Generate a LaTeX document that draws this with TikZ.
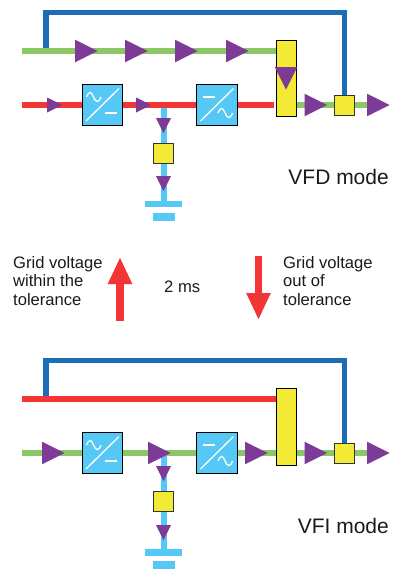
\documentclass[tikz,border=0pt]{standalone}
\usepackage{fontspec}
\setmainfont{Liberation Sans}
\usetikzlibrary{arrows.meta,backgrounds,shapes.geometric}
\definecolor{bypassblue}{HTML}{1B6DB8}
\definecolor{feedgreen}{HTML}{8BC764}
\definecolor{gridred}{HTML}{F23535}
\definecolor{battcyan}{HTML}{55C8F5}
\definecolor{flowpurple}{HTML}{7D3A96}
\definecolor{switchyellow}{HTML}{F2EA35}
\definecolor{ink}{HTML}{1A1A1A}
\tikzset{
  flowline/.style={line width=5.4pt},
  bypassline/.style={flowline,draw=bypassblue},
  greenline/.style={flowline,draw=feedgreen},
  redline/.style={flowline,draw=gridred},
  battline/.style={flowline,line width=6pt,draw=battcyan},
  bigarrow/.style={draw=gridred,line width=7.5pt,-{Triangle[length=27pt,width=22.5pt]}},
  flowmark/.style={isosceles triangle,isosceles triangle stretches,fill=flowpurple,inner sep=0pt,
                   anchor=lower side,minimum height=22.5pt,minimum width=22.5pt},
  smallmark/.style={flowmark,minimum height=15pt,minimum width=15pt},
  downmark/.style={shape border rotate=-90},
  convbox/.style={draw=black,line width=1pt,fill=battcyan,inner sep=0pt,minimum size=40.5pt},
  switchbar/.style={draw=black,line width=1pt,fill=switchyellow,inner sep=0pt,minimum width=20pt},
  switchbox/.style={draw=black!80,line width=1pt,fill=switchyellow,inner sep=0pt,minimum size=20pt},
  earthbar/.style={fill=battcyan,inner sep=0pt},
  wavestroke/.style={draw=white,line width=1.3pt},
  caption/.style={font=\fontsize{16.6}{18.4}\selectfont,text=ink,align=left,inner sep=0pt},
  modelabel/.style={caption,font=\fontsize{21}{24}\selectfont}
}
\newcommand{\sinewave}{(-16,-8) .. controls (-13,-15) and (-11,-13) .. (-9,-8) .. controls (-7,-3) and (-4,-1) .. (-1.5,-8)}
\begin{document}
\begin{tikzpicture}[x=1pt,y=-1pt]
  \useasboundingbox (0,0) rectangle (401,570);

  % VFD mode
  \node[convbox] (conva) at (102.5,105) {};
  \node[convbox] (convb) at (217,105) {};
  \node[switchbar,minimum height=76pt] (bara) at (286,78) {};
  \node[switchbox] (outa) at (344,105) {};
  \node[switchbox] (batta) at (163.5,153) {};
  \node[earthbar,minimum width=37pt,minimum height=6.5pt] (eartha) at (163.5,204) {};
  \node[earthbar,minimum width=22pt,minimum height=8pt] (earthc) at (163.5,217) {};
  \coordinate (greena) at (22,51);
  \coordinate (reda) at (22,105);
  \coordinate (redend) at (274,105);
  \coordinate (tapa) at (46,48.5);
  \coordinate (ridgea) at (46,12.5);
  \coordinate (ridgeb) at (344.5,12.5);
  \coordinate (joina) at (163.5,107.5);
  \coordinate (exita) at (367,105);

  \foreach \x/\n in {75/a,125/b,175/c,226/d}
    \node[flowmark] (top\n) at (\x,51) {};
  \node[flowmark,downmark] (swmark) at (286,67) {};
  \node[flowmark] (outb) at (304.5,105) {};
  \node[flowmark] (outc) at (367,105) {};
  \node[smallmark] (ina) at (47,105) {};
  \node[smallmark] (inb) at (136,105) {};
  \node[smallmark,downmark] (dna) at (163.5,118) {};
  \node[smallmark,downmark] (dnb) at (163.5,176) {};

  \begin{scope}[on background layer]
    \draw[bypassline] (tapa) -- (ridgea) -- (ridgeb) -- (outa.north -| ridgeb);
    \draw[greenline] (greena) -- (bara.west |- greena);
    \draw[redline] (reda) -- (conva.west);
    \draw[redline] (conva.east) -- (convb.west);
    \draw[redline] (convb.east) -- (redend);
    \draw[greenline] (bara.east |- reda) -- (exita);
    \draw[battline] (joina) -- (batta.north);
    \draw[battline] (batta.south) -- (eartha.north);
  \end{scope}

  % VFI mode
  \node[convbox] (convc) at (102.5,453) {};
  \node[convbox] (convd) at (217,453) {};
  \node[switchbar,minimum height=77pt] (barb) at (286,426.5) {};
  \node[switchbox] (outd) at (344,453) {};
  \node[switchbox] (battb) at (163.5,501) {};
  \node[earthbar,minimum width=37pt,minimum height=6.5pt] (earthb) at (163.5,552.5) {};
  \node[earthbar,minimum width=22pt,minimum height=8pt] (earthd) at (163.5,565) {};
  \coordinate (redb) at (22,399);
  \coordinate (greenb) at (22,453);
  \coordinate (tapb) at (46,396.5);
  \coordinate (ridgec) at (46,360.5);
  \coordinate (ridged) at (344.5,360.5);
  \coordinate (joinb) at (163.5,455.5);
  \coordinate (exitb) at (367,453);

  \foreach \x/\n in {42/a,148/b,245/c,304.5/d,367/e}
    \node[flowmark] (low\n) at (\x,453) {};
  \node[smallmark,downmark] (dnc) at (163.5,466) {};
  \node[smallmark,downmark] (dnd) at (163.5,525) {};

  \begin{scope}[on background layer]
    \draw[bypassline] (tapb) -- (ridgec) -- (ridged) -- (outd.north -| ridged);
    \draw[redline] (redb) -- (barb.west |- redb);
    \draw[greenline] (greenb) -- (convc.west);
    \draw[greenline] (convc.east) -- (convd.west);
    \draw[greenline] (convd.east) -- (barb.west |- greenb);
    \draw[greenline] (barb.east |- greenb) -- (exitb);
    \draw[battline] (joinb) -- (battb.north);
    \draw[battline] (battb.south) -- (earthb.north);
  \end{scope}

  % converter symbols
  \foreach \c in {conva,convc} {
    \begin{scope}[shift={(\c)}]
      \draw[wavestroke] (-16.5,16) -- (16.5,-16.5);
      \draw[wavestroke] \sinewave;
      \draw[wavestroke] (2,8) -- (14.5,8);
    \end{scope}
  }
  \foreach \c in {convb,convd} {
    \begin{scope}[shift={(\c)}]
      \draw[wavestroke] (-16.5,16) -- (16.5,-16.5);
      \draw[wavestroke] (-14,-8) -- (-2,-8);
      \begin{scope}[shift={(17,16)}]
        \draw[wavestroke] \sinewave;
      \end{scope}
    \end{scope}
  }

  % transfer arrows
  \coordinate (upfrom) at (120,321);
  \coordinate (upto) at (120,257);
  \coordinate (downfrom) at (258.5,256);
  \coordinate (downto) at (258.5,320);
  \draw[bigarrow] (upfrom) -- (upto);
  \draw[bigarrow] (downfrom) -- (downto);

  \node[modelabel,anchor=base east] (vfd) at (389,184) {VFD mode};
  \node[modelabel,anchor=base east] (vfi) at (389,533) {VFI mode};
  \node[caption,anchor=base west] (delay) at (164,292) {2 ms};
  \node[caption,anchor=north west] (within) at (13,256) {Grid voltage\\within the\\tolerance};
  \node[caption,anchor=north west] (outof) at (283,256) {Grid voltage\\out of\\tolerance};
\end{tikzpicture}
\end{document}
